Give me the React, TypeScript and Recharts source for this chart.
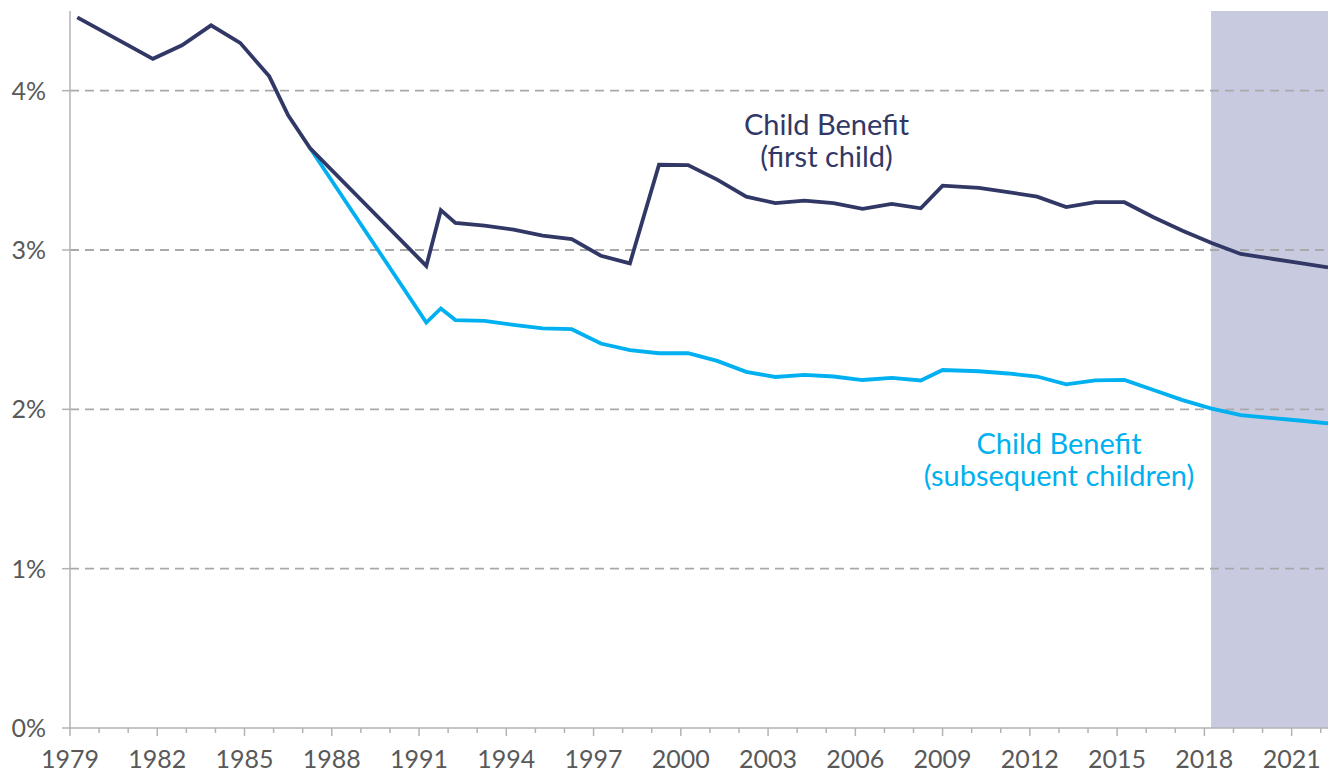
import React from "react";
import {
  LineChart,
  Line,
  XAxis,
  YAxis,
  ReferenceArea,
  ReferenceLine,
} from "recharts";

// fractional years (uprating dates)
const dates = [
  1979.25, 1981.85, 1982.85, 1983.85, 1984.85, 1985.85, 1986.5, 1987.25,
  1991.25, 1991.75, 1992.25, 1993.25, 1994.25, 1995.25, 1996.25, 1997.25,
  1998.25, 1999.25, 2000.25, 2001.25, 2002.25, 2003.25, 2004.25, 2005.25,
  2006.25, 2007.25, 2008.25, 2009.0, 2010.25, 2011.25, 2012.25, 2013.25,
  2014.25, 2015.25, 2016.25, 2017.25, 2018.25, 2019.25, 2020.25, 2021.25,
  2022.25,
];

const firstChild = [
  4.46, 4.2, 4.285, 4.41, 4.3, 4.09, 3.845, 3.64, 2.9, 3.25, 3.17, 3.153,
  3.128, 3.09, 3.069, 2.964, 2.916, 3.535, 3.533, 3.442, 3.335, 3.294, 3.31,
  3.294, 3.258, 3.289, 3.262, 3.404, 3.39, 3.363, 3.335, 3.269, 3.3, 3.3,
  3.206, 3.121, 3.044, 2.975, 2.947, 2.919, 2.891,
];

const subsequentChildren = [
  null, null, null, null, null, null, null, 3.64, 2.545, 2.633, 2.56, 2.555,
  2.53, 2.508, 2.503, 2.413, 2.371, 2.352, 2.352, 2.304, 2.235, 2.203, 2.216,
  2.206, 2.184, 2.197, 2.181, 2.247, 2.239, 2.225, 2.206, 2.157, 2.182, 2.185,
  2.121, 2.058, 2.004, 1.964, 1.947, 1.93, 1.912,
];

const yearTicks = Array.from({ length: 44 }, (_, i) => 1979 + i);
const pctTicks = [0, 1, 2, 3, 4];
const gridLines = [1, 2, 3, 4];

const projectionStart = 2018.23;
const projectionEnd = 2022.25;

const NAVY = "#313866";
const CYAN = "#00b0f0";
const SHADE = "#c8cae0";
const AXIS = "#b3b3b3";
const GRID = "#a9a9a9";
const TEXT = "#595959";
const FONT = "Lato, 'Open Sans', sans-serif";

const data = dates.map((d, i) => ({
  date: d,
  first: firstChild[i],
  subsequent: subsequentChildren[i],
}));

function XTick(props: any) {
  const { x, y, payload } = props;
  const yr = Math.round(payload.value);
  const major = (yr - 1979) % 3 === 0;
  return (
    <g>
      <line
        x1={x}
        x2={x}
        y1={y}
        y2={y + (major ? 8 : 5)}
        stroke={AXIS}
        strokeWidth={1.5}
      />
      {major && (
        <text
          x={x}
          y={y + 40}
          textAnchor="middle"
          fill={TEXT}
          fontSize={25}
          fontFamily={FONT}
        >
          {yr}
        </text>
      )}
    </g>
  );
}

export default function App() {
  return (
    <div
      style={{
        position: "absolute",
        left: 0,
        top: 0,
        width: 1329,
        height: 774,
        background: "#fff",
      }}
    >
      <LineChart
        width={1329}
        height={774}
        data={data}
        margin={{ top: 11, right: 1, bottom: 0, left: 0 }}
      >
        <XAxis
          dataKey="date"
          type="number"
          height={46}
          domain={[1979, projectionEnd]}
          ticks={yearTicks}
          interval={0}
          tick={<XTick />}
          tickLine={false}
          tickSize={0}
          tickMargin={0}
          axisLine={{ stroke: AXIS, strokeWidth: 1.5 }}
          allowDataOverflow
        />
        <YAxis
          type="number"
          width={70}
          domain={[0, 4.5]}
          ticks={pctTicks}
          tickFormatter={(v) => `${v}%`}
          tick={{ fill: TEXT, fontSize: 25, fontFamily: FONT }}
          tickSize={8}
          tickMargin={16}
          tickLine={{ stroke: AXIS, strokeWidth: 1.5 }}
          axisLine={{ stroke: AXIS, strokeWidth: 1.5 }}
          allowDataOverflow
        />
        <ReferenceArea
          x1={projectionStart}
          x2={projectionEnd}
          y1={0}
          y2={4.5}
          fill={SHADE}
          fillOpacity={1}
          stroke="none"
        />
        {gridLines.map((g) => (
          <ReferenceLine
            key={g}
            y={g}
            stroke={GRID}
            strokeWidth={1.8}
            strokeDasharray="9 6"
          />
        ))}
        <Line
          dataKey="subsequent"
          type="linear"
          stroke={CYAN}
          strokeWidth={3.8}
          dot={false}
          isAnimationActive={false}
        />
        <Line
          dataKey="first"
          type="linear"
          stroke={NAVY}
          strokeWidth={3.8}
          dot={false}
          isAnimationActive={false}
        />
      </LineChart>
      <svg
        width={1329}
        height={774}
        style={{ position: "absolute", left: 0, top: 0, pointerEvents: "none" }}
      >
        <g fontFamily={FONT} fontSize={29} textAnchor="middle">
          <text x={826.5} y={135} fill={NAVY}>
            Child Benefit
          </text>
          <text x={826.5} y={167} fill={NAVY}>
            (first child)
          </text>
          <text x={1059} y={454} fill={CYAN}>
            Child Benefit
          </text>
          <text x={1059} y={486} fill={CYAN}>
            (subsequent children)
          </text>
        </g>
      </svg>
    </div>
  );
}
